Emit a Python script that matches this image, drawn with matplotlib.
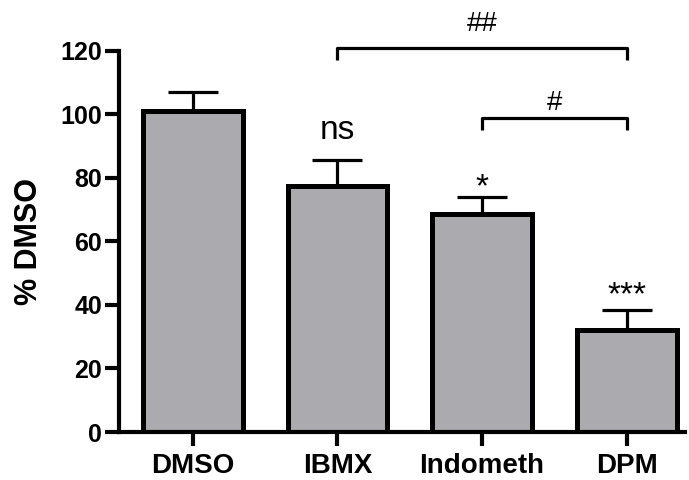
import numpy as np
import matplotlib.pyplot as plt

# values
groups = ['DMSO', 'IBMX', 'Indometh', 'DPM']
means = [101, 77.5, 68.5, 32]
sem = [6, 8, 5.5, 6.5]
stars = ['', 'ns', '*', '***']
star_y = [0, 95, 77, 43]
star_size = [0, 24, 24, 24]

# comparison brackets: (left group, right group, height, label, label height)
brackets = [(1, 3, 121, '##', 128.5), (2, 3, 99, '#', 103.5)]

plt.rcParams['font.family'] = ['Liberation Sans', 'DejaVu Sans']

fig = plt.figure(figsize=(6.89, 4.8), dpi=100)
ax = fig.add_axes([0.1727, 0.1, 0.821, 0.794])

x = np.arange(len(groups))
ax.bar(x, means, width=0.69, color='#ababaf', edgecolor='black', linewidth=3.6, zorder=2)
ax.errorbar(x, means, yerr=[np.zeros(len(sem)), sem], fmt='none', ecolor='black',
            elinewidth=2.3, capsize=18, capthick=2.3, zorder=1)

for i, s in enumerate(stars):
    if s:
        ax.text(x[i], star_y[i], s, ha='center', va='center', fontsize=star_size[i])

for a, b, h, lab, ty in brackets:
    ax.plot([x[a], x[a], x[b], x[b]], [h - 4, h, h, h - 4], color='black', lw=2.3,
            clip_on=False, solid_capstyle='butt')
    ax.text((x[a] + x[b]) / 2, ty, lab, ha='center', va='center', fontsize=20)

ax.set_xlim(-0.51, 3.4)
ax.set_ylim(0, 120)
ax.set_yticks(np.arange(0, 121, 20))
ax.set_xticks(x)
ax.set_xticklabels(groups, fontsize=20, fontweight='bold')
for lab in ax.get_yticklabels():
    lab.set_fontsize(18)
    lab.set_fontweight('bold')
ax.tick_params(axis='y', width=3, length=10, pad=2)
ax.tick_params(axis='x', width=3, length=10, pad=5)
ax.set_ylabel('% DMSO', fontsize=22, fontweight='bold', labelpad=12)

for side in ['top', 'right']:
    ax.spines[side].set_visible(False)
for side in ['left', 'bottom']:
    ax.spines[side].set_linewidth(3)

fig.savefig('out.png', dpi=100)
